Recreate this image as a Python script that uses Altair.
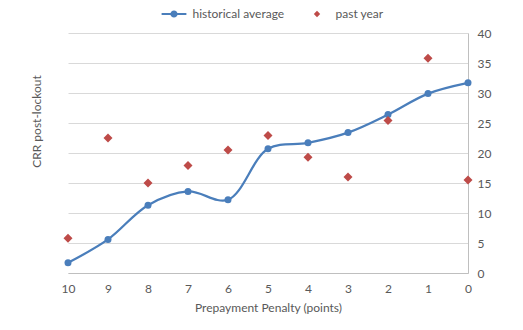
import altair as alt
import pandas as pd

penalty = [10, 9, 8, 7, 6, 5, 4, 3, 2, 1, 0]
historical_average = [1.7, 5.6, 11.3, 13.6, 12.2, 20.7, 21.7, 23.4, 26.4, 29.9, 31.7]
past_year = [5.8, 22.5, 15.0, 17.9, 20.5, 22.9, 19.3, 16.0, 25.4, 35.8, 15.5]
series_names = ["historical average", "past year"]
y_ticks = [0, 5, 10, 15, 20, 25, 30, 35, 40]
x_ticks = [10, 9, 8, 7, 6, 5, 4, 3, 2, 1, 0]

BLUE = "#4A7EBB"
RED = "#BE4B48"
FONT = "Lato"
GREY = "#595959"

hist = pd.DataFrame({"x": penalty, "y": historical_average, "series": series_names[0]})
past = pd.DataFrame({"x": penalty, "y": past_year, "series": series_names[1]})
both = pd.concat([hist, past])

xscale = alt.Scale(domain=[0, 10], reverse=True, nice=False, zero=False)
yscale = alt.Scale(domain=[0, 40], nice=False)

x_axis = alt.Axis(
    values=x_ticks, title="Prepayment Penalty (points)", grid=False,
    ticks=False, domain=True, domainColor="#BFBFBF", domainWidth=1,
    labelPadding=10, titlePadding=8, labelFontSize=12, titleFontSize=12,
    labelColor=GREY, titleColor=GREY, labelFont=FONT, titleFont=FONT,
    titleFontWeight="normal", format="d", labelFlush=False)

y_axis = alt.Axis(
    orient="right", values=y_ticks, grid=True, gridColor="#D9D9D9", gridWidth=1,
    ticks=False, domain=True, domainColor="#BFBFBF", domainWidth=1,
    labelPadding=9, labelFontSize=12, labelColor=GREY, labelFont=FONT,
    title="CRR post-lockout", titleFont=FONT, titleFontSize=12, titleColor=GREY,
    titleFontWeight="normal", titleX=-425, titleY=88, titleAngle=270,
    titleAnchor="middle", titleBaseline="bottom", labelFlush=False)


def xenc():
    return alt.X("x:Q", scale=xscale, axis=x_axis)


def yenc():
    return alt.Y("y:Q", scale=yscale, axis=y_axis)


line = alt.Chart(hist).mark_line(interpolate="catmull-rom", color=BLUE, strokeWidth=2.25).encode(
    x=xenc(), y=yenc())

line_path = "M-3.1,-0.28H3.1V0.28H-3.1Z M0.9,0 A0.9,0.9 0 1 1 -0.9,0 A0.9,0.9 0 1 1 0.9,0 Z"
diamond_legend = "M-0.8,0L0,-0.8L0.8,0L0,0.8Z"

legend_layer = alt.Chart(both).transform_filter("datum.x > 100").mark_point(
    filled=True, opacity=1, strokeWidth=0).encode(
    x=xenc(), y=yenc(),
    color=alt.Color("series:N", scale=alt.Scale(domain=series_names, range=[BLUE, RED]),
                    legend=alt.Legend(title=None, orient="none", direction="horizontal",
                                      legendX=100, legendY=-25, symbolSize=64,
                                      symbolStrokeWidth=0, symbolOpacity=1, labelOffset=12.5,
                                      columnPadding=26, labelFont=FONT, labelFontSize=12,
                                      labelColor=GREY)),
    shape=alt.Shape("series:N", scale=alt.Scale(domain=series_names,
                                                range=[line_path, diamond_legend])),
)

blue_pts = alt.Chart(hist).mark_point(filled=True, opacity=1, shape="circle", size=49, color=BLUE).encode(
    x=xenc(), y=yenc())
red_pts = alt.Chart(past).mark_point(filled=True, opacity=1, shape="diamond", size=81, color=RED).encode(
    x=xenc(), y=yenc())

chart = alt.layer(line, legend_layer, blue_pts, red_pts).properties(
    width=400, height=240,
    background="white",
    autosize=alt.AutoSizeParams(type="none"),
    padding={"left": 68, "top": 33, "right": 55, "bottom": 57},
).configure_view(strokeWidth=0, stroke="transparent")

chart.save("out.html", embed_options={"renderer": "svg", "actions": False})
